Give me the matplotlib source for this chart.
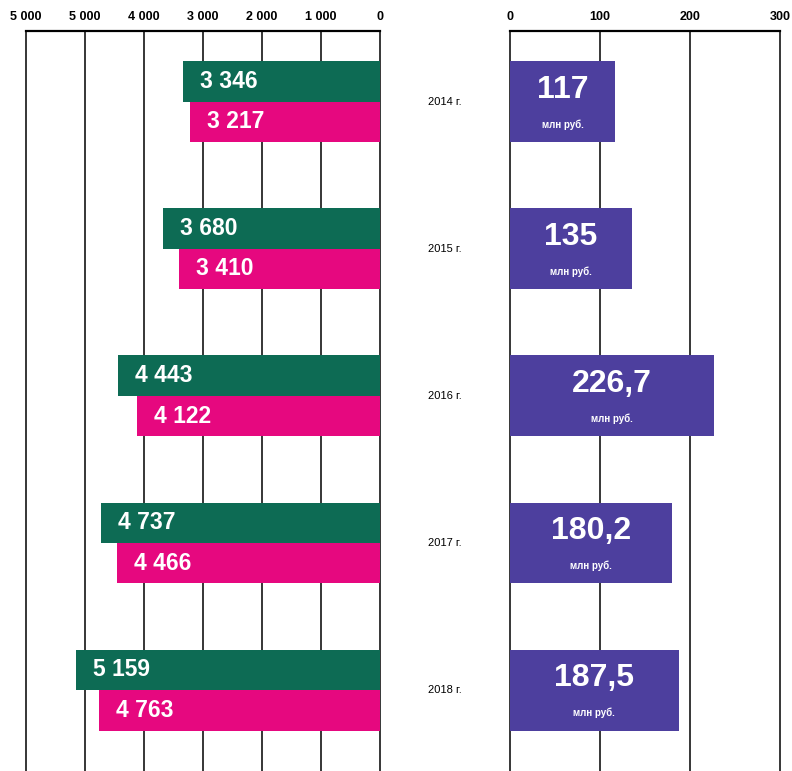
import numpy as np
import matplotlib.pyplot as plt

plt.rcParams['font.family'] = ['Liberation Sans', 'DejaVu Sans']

# данные
years = ["2014 г.", "2015 г.", "2016 г.", "2017 г.", "2018 г."]
green_vals = [3346, 3680, 4443, 4737, 5159]
pink_vals = [3217, 3410, 4122, 4466, 4763]
money_vals = [117, 135, 226.7, 180.2, 187.5]
money_labels = ["117", "135", "226,7", "180,2", "187,5"]
left_ticks = [6000, 5000, 4000, 3000, 2000, 1000, 0]
left_ticklabels = ["5 000", "5 000", "4 000", "3 000", "2 000", "1 000", "0"]
right_ticks = [0, 100, 200, 300]

GREEN = "#0d6b54"
PINK = "#e6087f"
PURPLE = "#4d3f9e"


def fmt(v):
    return f"{v:,}".replace(",", " ")


W, H = 792, 771
fig = plt.figure(figsize=(W / 100, H / 100), dpi=100)
top = 1 - 31 / H
axl = fig.add_axes([26 / W, 0, (380 - 26) / W, top])
axr = fig.add_axes([510 / W, 0, (780 - 510) / W, top])

y = np.arange(len(years))
bh = 0.275
ylim = (4.55, -0.48)

# левая часть
for v in left_ticks:
    axl.axvline(v, color="black", lw=1.1, zorder=1, clip_on=False)
axl.barh(y - bh / 2, green_vals, height=bh, color=GREEN, zorder=2)
axl.barh(y + bh / 2, pink_vals, height=bh, color=PINK, zorder=2)
for i in range(len(years)):
    axl.text(green_vals[i] - 290, y[i] - bh / 2, fmt(green_vals[i]), color="white",
             fontsize=16.5, fontweight="bold", ha="left", va="center", zorder=3)
    axl.text(pink_vals[i] - 290, y[i] + bh / 2, fmt(pink_vals[i]), color="white",
             fontsize=16.5, fontweight="bold", ha="left", va="center", zorder=3)
axl.set_xlim(6000, 0)
axl.set_ylim(*ylim)
axl.set_xticks(left_ticks)
axl.set_xticklabels(left_ticklabels, fontsize=9, fontweight="bold")
axl.xaxis.tick_top()
axl.tick_params(axis="x", length=0, pad=6)
axl.set_yticks([])
for s in ["left", "right", "bottom"]:
    axl.spines[s].set_visible(False)
axl.spines["top"].set_linewidth(1.6)

# подписи годов
for i in range(len(years)):
    axl.annotate(years[i], xy=(1, y[i]), xycoords=("axes fraction", "data"),
                 xytext=(65, 0), textcoords="offset pixels",
                 ha="center", va="center", fontsize=8)

# правая часть
for v in right_ticks:
    axr.axvline(v, color="black", lw=1.1, zorder=1, clip_on=False)
axr.barh(y, money_vals, height=2 * bh, color=PURPLE, zorder=2)
for i in range(len(years)):
    axr.text(money_vals[i] / 2, y[i] - 0.08, money_labels[i], color="white",
             fontsize=23, fontweight="bold", ha="center", va="center", zorder=3)
    axr.text(money_vals[i] / 2, y[i] + 0.155, "млн руб.", color="white",
             fontsize=7, fontweight="bold", ha="center", va="center", zorder=3)
axr.set_xlim(0, 300)
axr.set_ylim(*ylim)
axr.set_xticks(right_ticks)
axr.set_xticklabels([str(v) for v in right_ticks], fontsize=9, fontweight="bold")
axr.xaxis.tick_top()
axr.tick_params(axis="x", length=0, pad=6)
axr.set_yticks([])
for s in ["left", "right", "bottom"]:
    axr.spines[s].set_visible(False)
axr.spines["top"].set_linewidth(1.6)

fig.savefig("out.png", dpi=100)
